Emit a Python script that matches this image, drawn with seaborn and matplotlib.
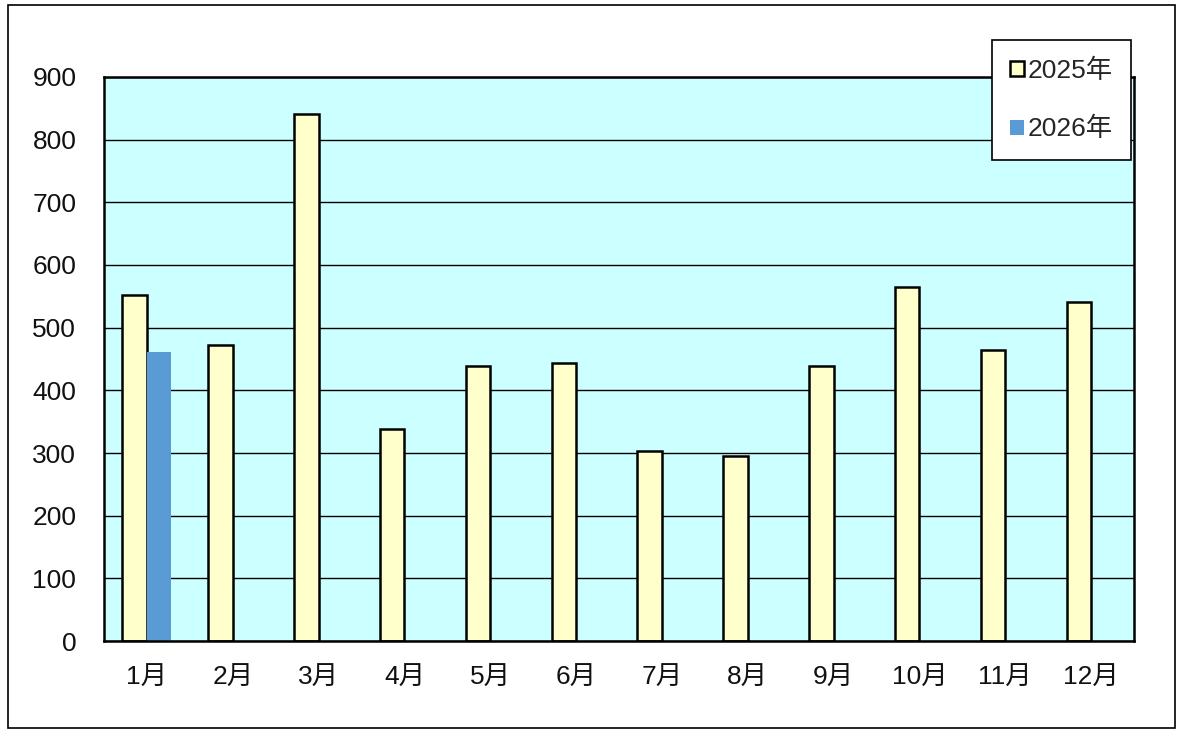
import pandas as pd
import matplotlib.pyplot as plt
import seaborn as sns
from matplotlib.patches import Rectangle
from matplotlib.ticker import FixedLocator

months = ['1月', '2月', '3月', '4月', '5月', '6月', '7月', '8月', '9月', '10月', '11月', '12月']
values_2025 = [552, 472, 841, 338, 439, 444, 303, 295, 439, 565, 464, 541]
months_2026 = ['1月']
values_2026 = [461]

df = pd.concat([
    pd.DataFrame({'month': months, 'value': values_2025, 'year': '2025年'}),
    pd.DataFrame({'month': months_2026, 'value': values_2026, 'year': '2026年'}),
], ignore_index=True)

sns.set_style("white")
plt.rcParams['font.family'] = ['Liberation Sans', 'Noto Sans CJK JP']

fig = plt.figure(figsize=(11.81, 7.34), dpi=100)
ax = fig.add_axes([0.0881, 0.1267, 0.8721, 0.7684])
ax.set_facecolor('#CCFFFF')

sns.barplot(data=df, x='month', y='value', hue='year', order=months,
            hue_order=['2025年', '2026年'],
            palette={'2025年': '#FFFFCC', '2026年': '#5B9BD5'},
            saturation=1, width=0.57, ax=ax, legend=False)

for bar in ax.containers[0]:
    bar.set_edgecolor('black')
    bar.set_linewidth(1.8)
for bar in ax.containers[1]:
    bar.set_edgecolor('none')

ax.set_ylim(0, 900)
ax.set_xlim(-0.5, 11.5)
ax.set_yticks(range(0, 901, 100))
ax.yaxis.grid(True, color='black', linewidth=1.0)
ax.set_axisbelow(True)
ax.set_xlabel('')
ax.set_ylabel('')

ax.tick_params(axis='y', length=0, labelsize=19, pad=20, labelcolor='#111111')
ax.tick_params(axis='x', which='major', length=0, labelsize=19, pad=18, labelcolor='#111111')
ax.xaxis.set_minor_locator(FixedLocator([i + 0.5 for i in range(11)]))
ax.tick_params(axis='x', which='minor', direction='in', length=6, width=1.2, color='black')

for s in ax.spines.values():
    s.set_color('black')
    s.set_linewidth(1.8)

# legend
handles = [Rectangle((0, 0), 1, 1, facecolor='#FFFFCC', edgecolor='black', linewidth=1.8),
           Rectangle((0, 0), 1, 1, facecolor='#5B9BD5', edgecolor='none')]
leg = fig.legend(handles, ['2025年', '2026年'], loc='upper left',
                 bbox_to_anchor=(992 / 1181, 1 - 40 / 734), fontsize=19,
                 frameon=True, fancybox=False, framealpha=1,
                 handlelength=0.5, handleheight=0.5,
                 handletextpad=0.15, labelspacing=1.3, borderpad=0.7, borderaxespad=0)
leg.get_frame().set_edgecolor('black')
leg.get_frame().set_linewidth(1.2)
leg.get_frame().set_facecolor('white')

# outer frame
fig.patches.append(Rectangle((8 / 1181, 1 - 728 / 734), 1167 / 1181, 723 / 734,
                             transform=fig.transFigure, fill=False,
                             edgecolor='black', linewidth=1.2))

fig.savefig('out.png', dpi=100)
